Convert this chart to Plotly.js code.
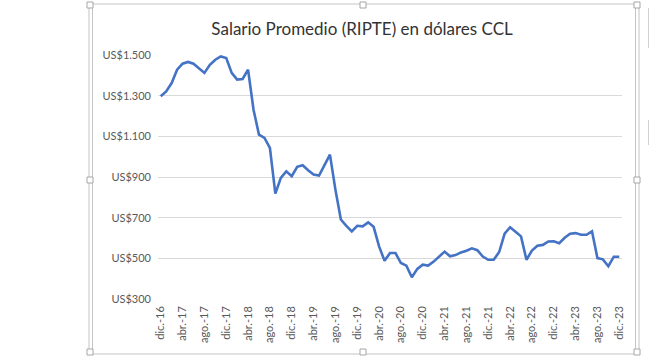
<!DOCTYPE html>
<html>
<head>
<meta charset="utf-8">
<script src="https://cdn.plot.ly/plotly-3.0.1.min.js"></script>
<style>
html,body{margin:0;padding:0;background:#fff;}
#chart{width:650px;height:360px;}
</style>
</head>
<body>
<div id="chart"></div>
<script>
var months = [
 "dic.-16",
 "ene.-17","feb.-17","mar.-17","abr.-17","may.-17","jun.-17","jul.-17","ago.-17","sep.-17","oct.-17","nov.-17","dic.-17",
 "ene.-18","feb.-18","mar.-18","abr.-18","may.-18","jun.-18","jul.-18","ago.-18","sep.-18","oct.-18","nov.-18","dic.-18",
 "ene.-19","feb.-19","mar.-19","abr.-19","may.-19","jun.-19","jul.-19","ago.-19","sep.-19","oct.-19","nov.-19","dic.-19",
 "ene.-20","feb.-20","mar.-20","abr.-20","may.-20","jun.-20","jul.-20","ago.-20","sep.-20","oct.-20","nov.-20","dic.-20",
 "ene.-21","feb.-21","mar.-21","abr.-21","may.-21","jun.-21","jul.-21","ago.-21","sep.-21","oct.-21","nov.-21","dic.-21",
 "ene.-22","feb.-22","mar.-22","abr.-22","may.-22","jun.-22","jul.-22","ago.-22","sep.-22","oct.-22","nov.-22","dic.-22",
 "ene.-23","feb.-23","mar.-23","abr.-23","may.-23","jun.-23","jul.-23","ago.-23","sep.-23","oct.-23","nov.-23","dic.-23"
];
var salarioUSD = [
 1297,
 1321,1362,1428,1457,1466,1457,1436,1412,1452,1477,1493,1485,
 1412,1379,1382,1428,1231,1108,1092,1043,818,896,928,904,
 950,958,933,912,907,961,1010,838,691,660,632,660,
 657,677,655,559,488,526,526,477,464,407,448,469,
 464,484,510,533,510,516,529,537,549,540,509,493,
 493,531,621,653,631,608,493,538,562,566,583,584,
 574,601,621,624,616,616,633,501,495,461,508,508
];
var xTickLabels = ["dic.-16","abr.-17","ago.-17","dic.-17","abr.-18","ago.-18","dic.-18","abr.-19","ago.-19","dic.-19","abr.-20","ago.-20","dic.-20","abr.-21","ago.-21","dic.-21","abr.-22","ago.-22","dic.-22","abr.-23","ago.-23","dic.-23"];
var yTickVals = [300,500,700,900,1100,1300,1500];
var yTickLabels = ["US$300","US$500","US$700","US$900","US$1.100","US$1.300","US$1.500"];

var L = 158, R = 28, T = 55, B = 61, W = 650, H = 360;
var pw = W - L - R, ph = H - T - B;
function px(p){ return (p - L) / pw; }
function py(p){ return (H - B - p) / ph; }

var frame = "#c4c4c4";
var shapes = [
  {type:"rect", xref:"paper", yref:"paper", x0:px(89), x1:px(639), y0:py(4), y1:py(354), line:{color:frame,width:1}},
  {type:"line", xref:"paper", yref:"paper", x0:px(92.5), x1:px(92.5), y0:py(6), y1:py(352), line:{color:frame,width:1}},
  {type:"line", xref:"paper", yref:"paper", x0:px(635.5), x1:px(635.5), y0:py(6), y1:py(352), line:{color:frame,width:1}},
  {type:"line", xref:"paper", yref:"paper", x0:px(648.5), x1:px(648.5), y0:py(8), y1:py(48), line:{color:"#d0d0d0",width:1}},
  {type:"line", xref:"paper", yref:"paper", x0:px(648.5), x1:px(648.5), y0:py(120), y1:py(145), line:{color:"#d0d0d0",width:1}}
];
var handlePts = [[90,5],[363,5],[637,5],[90,180],[637,180],[90,352],[363,352],[637,352]];
handlePts.forEach(function(h){
  shapes.push({type:"rect", xref:"paper", yref:"paper", x0:px(h[0]-3), x1:px(h[0]+3), y0:py(h[1]-3), y1:py(h[1]+3),
    line:{color:"#a6a6a6",width:1}, fillcolor:"#ffffff"});
});

var trace = {
  x: months,
  y: salarioUSD,
  type: "scatter",
  mode: "lines",
  line: {color:"#4472C4", width:2.6},
  hoverinfo: "x+y"
};

var layout = {
  width: W, height: H,
  margin: {l:L, r:R, t:T, b:B, pad:0},
  paper_bgcolor: "#ffffff",
  plot_bgcolor: "#ffffff",
  showlegend: false,
  font: {family: "Lato, 'Open Sans', sans-serif", color: "#595959"},
  title: {
    text: "Salario Promedio (RIPTE) en dólares CCL",
    font: {family: "Lato, 'Open Sans', sans-serif", size: 17, color: "#333333"},
    x: 0.557, xref: "container", xanchor: "center",
    y: 0.92, yref: "container", yanchor: "middle"
  },
  xaxis: {
    type: "category",
    range: [-0.5, months.length - 0.5],
    tickmode: "array",
    tickvals: xTickLabels,
    ticktext: xTickLabels,
    tickangle: -90,
    tickfont: {size: 11, color: "#595959"},
    showgrid: false,
    showline: false,
    zeroline: false,
    ticks: "",
    ticklabelstandoff: 4,
    fixedrange: true
  },
  yaxis: {
    range: [300, 1500],
    tickmode: "array",
    tickvals: yTickVals,
    ticktext: yTickLabels,
    tickfont: {size: 11, color: "#595959"},
    showgrid: true,
    gridcolor: "#d9d9d9",
    gridwidth: 1,
    zeroline: false,
    showline: false,
    ticks: "",
    ticklabelstandoff: 6,
    fixedrange: true
  },
  shapes: shapes
};

Plotly.newPlot("chart", [trace], layout, {displayModeBar: false, staticPlot: true});
</script>
</body>
</html>
